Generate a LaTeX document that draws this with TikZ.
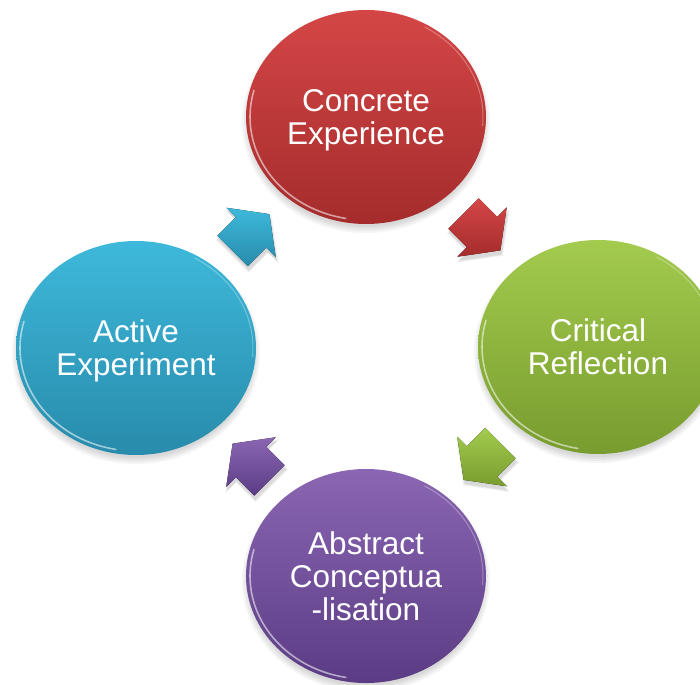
\documentclass[tikz,border=0pt]{standalone}
\usepackage{fontspec}
\setmainfont{Liberation Sans}
\usetikzlibrary{shapes.geometric,calc,backgrounds}
\definecolor{redT}{HTML}{D44646}
\definecolor{redB}{HTML}{A52C2C}
\definecolor{grnT}{HTML}{A3CB4E}
\definecolor{grnB}{HTML}{789C2E}
\definecolor{bluT}{HTML}{3EB9DB}
\definecolor{bluB}{HTML}{288BAB}
\definecolor{purT}{HTML}{8B66B3}
\definecolor{purB}{HTML}{5B3C84}
\tikzset{
  stage/.style={ellipse, minimum width=240pt, minimum height=214pt, inner sep=0pt,
    text=white, align=center, text depth=0pt,
    font=\fontsize{31.5}{33}\selectfont},
  rim/.style={white, opacity=0.55, line width=1.6pt, line cap=round},
  cycarrow/.style={line join=round}
}
\newcommand{\arrowshape}{(-26,-21.5) -- (0,-21.5) -- (0,-35) -- (26,0) -- (0,35) -- (0,21.5) -- (-26,21.5) -- cycle}
\begin{document}
\begin{tikzpicture}[x=1pt,y=-1pt]
\useasboundingbox (0,0) rectangle (700,684);
% stages
\node[stage, top color=redT, bottom color=redB] (ce) at (366,117) {Concrete\\Experience};
\node[stage, top color=grnT, bottom color=grnB] (cr) at (598,347) {Critical\\Reflection};
\node[stage, top color=purT, bottom color=purB] (ac) at (366,576) {Abstract\\Conceptua\\-lisation};
\node[stage, top color=bluT, bottom color=bluB] (ae) at (136,348) {Active\\Experiment};
% glossy rims
\foreach \n in {ce,cr,ac,ae}{
  \draw[rim, shift={(\n.center)}] plot[domain=100:195, samples=40] ({116*cos(\x)},{103*sin(\x)});
  \draw[white, opacity=0.3, line width=1pt, shift={(\n.center)}] plot[domain=-60:5, samples=30] ({117*cos(\x)},{104*sin(\x)});
}
% background and shadows
\begin{scope}[on background layer]
  \fill[white] (0,0) rectangle (700,684);
  \foreach \n in {ce,cr,ac,ae}{
    \foreach \k in {0,2,4,6}
      \fill[black, opacity=0.04] ([yshift=-5pt]\n.center) ellipse [x radius=118+\k, y radius=105+\k];
  }
  \foreach \a/\b/\r in {ce/cr/-45, cr/ac/-135, ac/ae/135, ae/ce/45}{
    \foreach \k in {0,1.5,3}
      \fill[black, opacity=0.05, shift={($(\a)!0.5!(\b)+(1,4)$)}, rotate=\r, scale=1+\k/40] \arrowshape;
  }
\end{scope}
% cycle arrows
\fill[cycarrow, top color=redT, bottom color=redB, shift={($(ce)!0.5!(cr)$)}, rotate=-45] \arrowshape;
\fill[cycarrow, top color=grnT, bottom color=grnB, shift={($(cr)!0.5!(ac)$)}, rotate=-135] \arrowshape;
\fill[cycarrow, top color=purT, bottom color=purB, shift={($(ac)!0.5!(ae)$)}, rotate=135] \arrowshape;
\fill[cycarrow, top color=bluT, bottom color=bluB, shift={($(ae)!0.5!(ce)$)}, rotate=45] \arrowshape;
\end{tikzpicture}
\end{document}
